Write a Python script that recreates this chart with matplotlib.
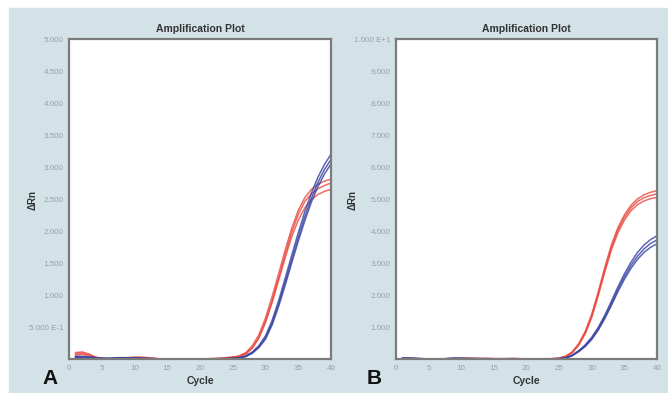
import matplotlib
matplotlib.use("Agg")
import matplotlib.pyplot as plt
from matplotlib.patches import Rectangle

plt.rcParams['font.family'] = ['Liberation Sans', 'DejaVu Sans']

# ciclos 1..40
ciclos = list(range(1, 41))

# painel A - vermelho (3 replicatas)
a_verm_1 = [0.10, 0.11, 0.08, 0.03, 0.01, 0.00, 0.01, 0.02, 0.02, 0.03,
            0.03, 0.02, 0.01, 0.00, 0.00, 0.00, 0.00, 0.00, 0.00, 0.00,
            0.00, 0.01, 0.01, 0.02, 0.03, 0.05, 0.10, 0.21, 0.38, 0.64,
            0.97, 1.33, 1.70, 2.04, 2.32, 2.52, 2.65, 2.73, 2.78, 2.81]
a_verm_2 = [0.08, 0.09, 0.07, 0.03, 0.01, 0.00, 0.01, 0.01, 0.02, 0.02,
            0.02, 0.02, 0.01, 0.00, 0.00, 0.00, 0.00, 0.00, 0.00, 0.00,
            0.00, 0.00, 0.01, 0.02, 0.03, 0.04, 0.08, 0.18, 0.34, 0.59,
            0.90, 1.26, 1.63, 1.98, 2.26, 2.46, 2.58, 2.66, 2.71, 2.75]
a_verm_3 = [0.06, 0.07, 0.05, 0.02, 0.01, 0.00, 0.00, 0.01, 0.01, 0.02,
            0.02, 0.01, 0.01, 0.00, 0.00, 0.00, 0.00, 0.00, 0.00, 0.00,
            0.00, 0.00, 0.01, 0.01, 0.02, 0.04, 0.08, 0.17, 0.33, 0.57,
            0.88, 1.23, 1.58, 1.91, 2.17, 2.36, 2.49, 2.57, 2.62, 2.65]

# painel A - azul
a_azul_1 = [0.04, 0.04, 0.03, 0.02, 0.01, 0.01, 0.02, 0.02, 0.02, 0.02,
            0.01, 0.01, 0.00, 0.00, 0.00, 0.00, 0.00, 0.00, 0.00, 0.00,
            0.00, 0.00, 0.00, 0.01, 0.01, 0.02, 0.05, 0.11, 0.21, 0.36,
            0.60, 0.91, 1.26, 1.62, 1.97, 2.30, 2.59, 2.84, 3.04, 3.20]
a_azul_2 = [0.03, 0.03, 0.03, 0.02, 0.01, 0.01, 0.01, 0.02, 0.02, 0.01,
            0.01, 0.01, 0.00, 0.00, 0.00, 0.00, 0.00, 0.00, 0.00, 0.00,
            0.00, 0.00, 0.00, 0.00, 0.01, 0.02, 0.04, 0.10, 0.19, 0.33,
            0.56, 0.86, 1.20, 1.55, 1.90, 2.22, 2.51, 2.76, 2.96, 3.12]
a_azul_3 = [0.03, 0.02, 0.02, 0.01, 0.01, 0.01, 0.01, 0.01, 0.01, 0.01,
            0.01, 0.00, 0.00, 0.00, 0.00, 0.00, 0.00, 0.00, 0.00, 0.00,
            0.00, 0.00, 0.00, 0.00, 0.01, 0.01, 0.04, 0.09, 0.18, 0.31,
            0.53, 0.82, 1.15, 1.50, 1.84, 2.16, 2.45, 2.69, 2.89, 3.05]

# painel B - vermelho
b_verm_1 = [0.02, 0.02, 0.01, 0.00, 0.00, 0.00, 0.00, 0.01, 0.02, 0.02,
            0.02, 0.02, 0.02, 0.02, 0.01, 0.01, 0.01, 0.02, 0.01, 0.00,
            0.00, 0.00, 0.01, 0.01, 0.03, 0.09, 0.22, 0.48, 0.86, 1.40,
            2.10, 2.86, 3.56, 4.10, 4.50, 4.80, 5.00, 5.13, 5.21, 5.26]
b_verm_2 = [0.01, 0.01, 0.01, 0.00, 0.00, 0.00, 0.00, 0.01, 0.01, 0.02,
            0.02, 0.02, 0.01, 0.01, 0.01, 0.01, 0.01, 0.01, 0.01, 0.00,
            0.00, 0.00, 0.00, 0.01, 0.02, 0.08, 0.20, 0.45, 0.82, 1.35,
            2.04, 2.79, 3.48, 4.03, 4.43, 4.72, 4.92, 5.04, 5.11, 5.16]
b_verm_3 = [0.01, 0.01, 0.00, 0.00, 0.00, 0.00, 0.00, 0.00, 0.01, 0.01,
            0.01, 0.01, 0.01, 0.01, 0.01, 0.00, 0.01, 0.01, 0.00, 0.00,
            0.00, 0.00, 0.00, 0.01, 0.02, 0.07, 0.19, 0.43, 0.79, 1.30,
            1.98, 2.72, 3.40, 3.94, 4.34, 4.63, 4.82, 4.94, 5.01, 5.05]

# painel B - azul
b_azul_1 = [0.03, 0.03, 0.02, 0.01, 0.00, 0.00, 0.00, 0.02, 0.03, 0.02,
            0.02, 0.01, 0.01, 0.01, 0.00, 0.00, 0.00, 0.00, 0.00, 0.00,
            0.00, 0.00, 0.00, 0.01, 0.01, 0.04, 0.12, 0.26, 0.44, 0.68,
            0.99, 1.37, 1.80, 2.25, 2.66, 3.02, 3.33, 3.56, 3.73, 3.85]
b_azul_2 = [0.02, 0.02, 0.02, 0.01, 0.00, 0.00, 0.00, 0.01, 0.02, 0.02,
            0.01, 0.01, 0.01, 0.00, 0.00, 0.00, 0.00, 0.00, 0.00, 0.00,
            0.00, 0.00, 0.00, 0.00, 0.01, 0.04, 0.11, 0.24, 0.41, 0.64,
            0.94, 1.31, 1.73, 2.17, 2.57, 2.92, 3.21, 3.44, 3.61, 3.72]
b_azul_3 = [0.02, 0.02, 0.01, 0.01, 0.00, 0.00, 0.00, 0.01, 0.01, 0.01,
            0.01, 0.01, 0.00, 0.00, 0.00, 0.00, 0.00, 0.00, 0.00, 0.00,
            0.00, 0.00, 0.00, 0.00, 0.01, 0.03, 0.10, 0.23, 0.39, 0.61,
            0.90, 1.26, 1.67, 2.10, 2.49, 2.83, 3.11, 3.33, 3.49, 3.60]

xticks = [0, 5, 10, 15, 20, 25, 30, 35, 40]
a_yticks = [0.5, 1.0, 1.5, 2.0, 2.5, 3.0, 3.5, 4.0, 4.5, 5.0]
a_ylabels = ['5.000 E-1', '1.000', '1.500', '2.000', '2.500', '3.000',
             '3.500', '4.000', '4.500', '5.000']
b_yticks = [1, 2, 3, 4, 5, 6, 7, 8, 9, 10]
b_ylabels = ['1.000', '2.000', '3.000', '4.000', '5.000', '6.000',
             '7.000', '8.000', '9.000', '1.000 E+1']

VERMELHO = '#e9473f'
AZUL = '#3340a0'
FUNDO = '#d3e2e7'
CINZA_TXT = '#9aa0a3'
CINZA_EIXO = '#7b7b7b'

W, H = 668, 393
fig = plt.figure(figsize=(W / 100, H / 100), dpi=100, facecolor='white')
fig.patches.append(Rectangle((9 / W, 0), 1 - 9 / W, 1 - 8 / H,
                             transform=fig.transFigure, color=FUNDO, zorder=-10))


def painel(rect, vermelhos, azuis, ymax, yticks, ylabels, letra, x_letra, x_ylabel):
    ax = fig.add_axes(rect)
    ax.set_facecolor('white')
    for serie in vermelhos:
        ax.plot(ciclos, serie, color=VERMELHO, lw=1.1, alpha=0.8)
    for serie in azuis:
        ax.plot(ciclos, serie, color=AZUL, lw=1.1, alpha=0.8)
    ax.set_xlim(0, 40)
    ax.set_ylim(0, ymax)
    ax.set_xticks(xticks)
    ax.set_xticklabels([str(t) for t in xticks])
    ax.set_yticks(yticks)
    ax.set_yticklabels(ylabels)
    ax.tick_params(length=0, labelsize=5.8, labelcolor=CINZA_TXT, pad=4)
    for s in ax.spines.values():
        s.set_color(CINZA_EIXO)
        s.set_linewidth(1.6)
    ax.set_title('Amplification Plot', fontsize=7.5, fontweight='bold',
                 color='#333333', pad=5)
    ax.set_xlabel('Cycle', fontsize=7.5, fontweight='bold', color='#333333', labelpad=3)
    fig.text(x_ylabel / W, 1 - 200 / H, 'ΔRn', rotation=90, fontsize=7,
             fontweight='bold', color='#333333', ha='center', va='center')
    fig.text(x_letra / W, 1 - 379 / H, letra, fontsize=15, fontweight='bold',
             color='#111111', ha='center', va='center')
    return ax


fundo = (393 - 359) / H
altura = (359 - 39) / H
painel([69 / W, fundo, 262 / W, altura], [a_verm_1, a_verm_2, a_verm_3],
       [a_azul_1, a_azul_2, a_azul_3], 5.0, a_yticks, a_ylabels, 'A', 50, 33)
painel([396 / W, fundo, 261 / W, altura], [b_verm_1, b_verm_2, b_verm_3],
       [b_azul_1, b_azul_2, b_azul_3], 10.0, b_yticks, b_ylabels, 'B', 374, 353)

fig.savefig('out.png', dpi=100, facecolor='white')
